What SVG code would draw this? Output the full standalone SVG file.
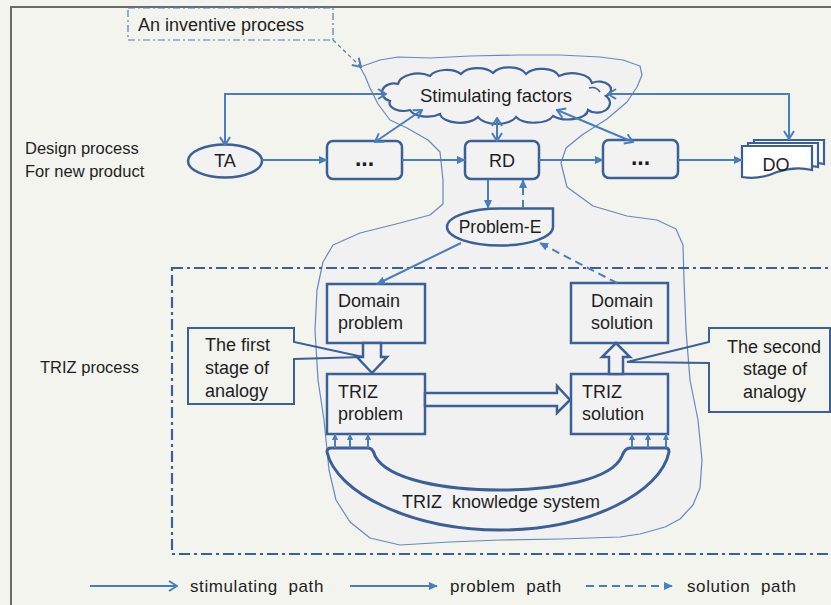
<svg xmlns="http://www.w3.org/2000/svg" width="831" height="605" viewBox="0 0 831 605">
<defs>
<style>
text{font-family:"Liberation Sans",Arial,sans-serif;fill:#1e1e1e;}
.t18{font-size:18px;}
.lbl{font-size:16.5px;}
.leg{font-size:17px;letter-spacing:0.6px;}
.box{fill:#f2f2f2;stroke:#3c6095;stroke-width:2.5;}
.stim{fill:none;stroke:#4a7ebb;stroke-width:2;}
.prob{fill:none;stroke:#4a7ebb;stroke-width:2;}
.sol{fill:none;stroke:#4a7ebb;stroke-width:2;stroke-dasharray:8 5;}
.blk{fill:#f2f2f2;stroke:#3c6095;stroke-width:2.5;stroke-linejoin:miter;}
.call{fill:none;stroke:#3c6095;stroke-width:2;}
</style>
<marker id="open" viewBox="0 0 10 12" refX="9" refY="6" markerWidth="10" markerHeight="12" orient="auto-start-reverse" markerUnits="userSpaceOnUse"><path d="M1,1 L9,6 L1,11" fill="none" stroke="#4a7ebb" stroke-width="2"/></marker>
<marker id="fill" viewBox="0 0 10 10" refX="9" refY="5" markerWidth="9" markerHeight="9" orient="auto" markerUnits="userSpaceOnUse"><path d="M0,0.5 L10,5 L0,9.5 Z" fill="#4a7ebb"/></marker>
<marker id="small" viewBox="0 0 10 10" refX="9" refY="5" markerWidth="7" markerHeight="7" orient="auto" markerUnits="userSpaceOnUse"><path d="M0,0.5 L10,5 L0,9.5 Z" fill="#4a7ebb"/></marker>
</defs>
<rect x="0" y="0" width="831" height="605" fill="#f4f4ef"/>
<path d="M11,605 V7 H831" fill="none" stroke="#6a6a6a" stroke-width="2"/>

<g id="blob">
<path d="M360,67 L380,60 L398,57 L430,58 L470,56 L520,55 L560,55 L600,57 L623,60 L640,66 L642,75 L637,87 L627,102 L607,119 L582,135 L566,148 L561,163 L567,187 L593,206 L627,216 L657,220 L676,229 L683,245 L684,280 L686,330 L690,380 L698,420 L702,460 L700,488 L693,505 L680,519 L665,527 L640,534 L620,537 L560,539 L500,540 L450,542 L400,545 L370,538 L350,522 L336,500 L329,470 L324,420 L318,380 L315,330 L317,290 L323,262 L333,245 L360,233 L400,223 L430,215 L443,204 L443,180 L440,152 L428,140 L407,128 L390,120 L378,104 L370,88 L365,76 Z" fill="#f1f1f2" stroke="#6689bd" stroke-width="1.2" stroke-linejoin="round"/>
</g>

<g id="triz-frame">
<rect x="172" y="268" width="680" height="286" fill="none" stroke="#3c6095" stroke-width="2.2" stroke-dasharray="11 4 3 4"/>
</g>

<g id="inventive">
<rect x="128" y="8" width="205" height="32" fill="none" stroke="#4a7ebb" stroke-width="1.2" stroke-dasharray="7 3 2 3"/>
<text x="138" y="31" class="t18">An inventive process</text>
</g>

<g id="labels">
<text x="25" y="154" class="lbl">Design process</text>
<text x="25" y="177" class="lbl">For new product</text>
<text x="40" y="373" class="lbl">TRIZ process</text>
</g>

<g id="cloud">
<path d="M390,101 A12 9 0 0 1 398,84 A20 12 0 0 1 430,76 A18 10 0 0 1 461,74 A18 10 0 0 1 493,73 A18 10 0 0 1 526,74 A18 10 0 0 1 559,76 A20 11 0 0 1 592,83 A12 8 0 0 1 606,96 A12 9 0 0 1 588,110 A20 10 0 0 1 553,116 A20 10 0 0 1 516,117 A20 10 0 0 1 478,117 A20 10 0 0 1 440,114 A18 9 0 0 1 410,110 A14 8 0 0 1 390,101 Z" fill="#f2f2f2" stroke="#3c6095" stroke-width="2.2"/>
<path d="M600,92 Q596,86 589,88" fill="none" stroke="#3c6095" stroke-width="1.6"/>
<text x="496" y="102" class="t18" style="font-size:18.5px" text-anchor="middle">Stimulating factors</text>
</g>

<g id="ta">
<ellipse cx="225" cy="161" rx="37" ry="16.5" class="box"/>
<text x="225" y="167" class="t18" text-anchor="middle">TA</text>
</g>
<g id="dots1">
<rect x="327" y="141" width="75" height="38" rx="6" class="box"/>
<text x="364.5" y="166" class="t18" style="font-size:23px" text-anchor="middle" font-weight="bold">...</text>
</g>
<g id="rd">
<rect x="465" y="141" width="74" height="38" rx="6" class="box"/>
<text x="502" y="167" class="t18" text-anchor="middle">RD</text>
</g>
<g id="dots2">
<rect x="603" y="140" width="75" height="38" rx="6" class="box"/>
<text x="640.5" y="165" class="t18" style="font-size:23px" text-anchor="middle" font-weight="bold">...</text>
</g>
<g id="do">
<path d="M754,140 H824 V164 Q807,160 789,166 Q772,174 754,171 Z" fill="#ffffff" stroke="#3c6095" stroke-width="2.2"/>
<path d="M748,143 H818 V167 Q801,163 783,169 Q766,177 748,174 Z" fill="#ffffff" stroke="#3c6095" stroke-width="2.2"/>
<path d="M742,146 H812 V170 Q795,166 777,172 Q760,180 742,177 Z" fill="#ffffff" stroke="#3c6095" stroke-width="2.2"/>
<text x="776" y="171" class="t18" text-anchor="middle">DO</text>
</g>
<g id="problem-e">
<path d="M500,208.5 H553 V227 A53 18.5 0 1 1 500,208.5 Z" class="box"/>
<text x="500" y="233" class="t18" style="font-size:17.5px" text-anchor="middle">Problem-E</text>
</g>

<g id="domain-problem">
<rect x="327" y="284" width="98" height="59" class="box"/>
<text x="338" y="307" class="t18">Domain</text>
<text x="338" y="329" class="t18">problem</text>
</g>
<g id="triz-problem">
<rect x="327" y="374" width="98" height="60" class="box"/>
<text x="338" y="398" class="t18">TRIZ</text>
<text x="338" y="420" class="t18">problem</text>
</g>
<g id="domain-solution">
<rect x="571" y="283" width="97" height="60" class="box"/>
<text x="591" y="307" class="t18">Domain</text>
<text x="591" y="329" class="t18">solution</text>
</g>
<g id="triz-solution">
<rect x="571" y="374" width="97" height="60" class="box"/>
<text x="582" y="398" class="t18">TRIZ</text>
<text x="582" y="420" class="t18">solution</text>
</g>

<g id="block-arrows">
<path class="blk" d="M363,343 V357 H357 L372,373 L387,357 H381 V343 Z"/>
<path class="blk" d="M609,374 V357 H602 L616,343 L630,357 H623 V374 Z"/>
<path class="blk" d="M425,393 H557 V386 L570,400 L557,413 V406 H425 Z"/>
</g>

<g id="knowledge">
<path d="M327,452 Q327,448 331,448 H368 Q373,448 375,456 C388,480 445,490 500,490 C555,490 612,480 622,456 Q625,448 630,448 H666 Q669,448 669,452 C661,492 590,530 500,530 C410,530 336,492 327,452 Z" fill="#f2f2f2" stroke="#3c6095" stroke-width="3"/>
<text x="501" y="508" class="t18" text-anchor="middle">TRIZ&#160; knowledge system</text>
</g>

<g id="callout-1">
<path class="call" d="M188,328 H294 V342 L363,357 L294,359 V404 H188 Z"/>
<text x="205" y="351" class="t18">The first</text>
<text x="205" y="374" class="t18">stage of</text>
<text x="205" y="397" class="t18">analogy</text>
</g>
<g id="callout-2">
<path class="call" d="M709,328 H830 V412 H709 V363 L627,362 L709,342 Z"/>
<text x="727" y="353" class="t18">The second</text>
<text x="743" y="375" class="t18">stage of</text>
<text x="743" y="398" class="t18">analogy</text>
</g>

<g id="connectors">
<path d="M333,40 L361,67" fill="none" stroke="#4a7ebb" stroke-width="1.2" stroke-dasharray="4 3" marker-end="url(#open)"/>
<path class="stim" d="M386,94 H225 V145" marker-start="url(#open)" marker-end="url(#open)"/>
<path class="stim" d="M608,94 H789 V139" marker-start="url(#open)" marker-end="url(#open)"/>
<path class="stim" d="M422,110 L375,142" marker-start="url(#open)" marker-end="url(#open)"/>
<path class="stim" d="M497,118 L497,141" marker-start="url(#open)" marker-end="url(#open)"/>
<path class="stim" d="M557,110 L633,142" marker-start="url(#open)" marker-end="url(#open)"/>
<path class="prob" d="M262,160 H327" marker-end="url(#fill)"/>
<path class="prob" d="M402,160 H465" marker-end="url(#fill)"/>
<path class="prob" d="M539,160 H603" marker-end="url(#fill)"/>
<path class="prob" d="M678,160 H742" marker-end="url(#fill)"/>
<path class="prob" d="M488,180 V208" marker-end="url(#fill)"/>
<path class="sol" d="M523,208 V180" marker-end="url(#fill)"/>
<path class="prob" d="M461,243 L377,284" marker-end="url(#fill)"/>
<path class="sol" d="M617,283 L540,243" marker-end="url(#fill)"/>
<path class="prob" d="M335,448 V434" marker-end="url(#small)"/>
<path class="prob" d="M350,448 V434" marker-end="url(#small)"/>
<path class="prob" d="M368,448 V434" marker-end="url(#small)"/>
<path class="prob" d="M632,448 V434" marker-end="url(#small)"/>
<path class="prob" d="M648,448 V434" marker-end="url(#small)"/>
<path class="prob" d="M666,448 V434" marker-end="url(#small)"/>
</g>

<g id="legend">
<path class="stim" d="M90,586 H177" marker-end="url(#open)"/>
<text x="190" y="592" class="leg">stimulating&#160; path</text>
<path class="prob" d="M350,586 H437" marker-end="url(#fill)"/>
<text x="450" y="592" class="leg">problem&#160; path</text>
<path class="sol" d="M586,586 H672" stroke-dasharray="6 5" marker-end="url(#fill)"/>
<text x="687" y="592" class="leg">solution&#160; path</text>
</g>
</svg>
